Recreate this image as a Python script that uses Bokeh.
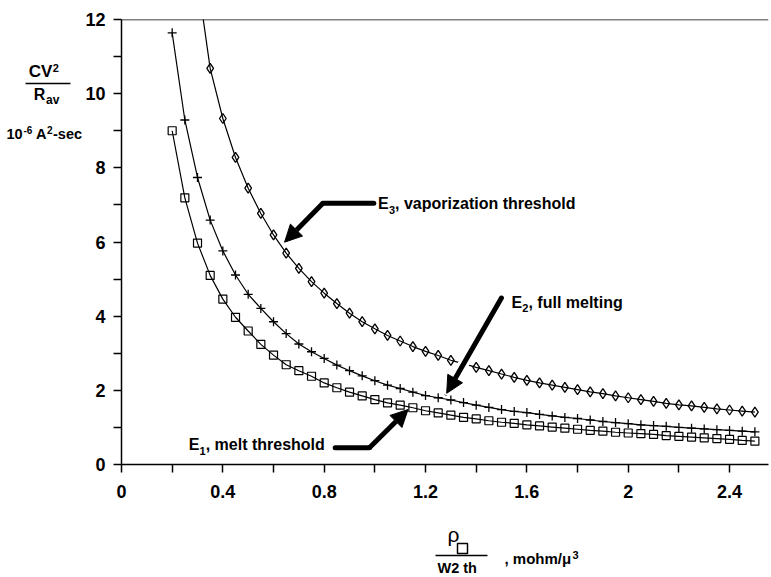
from bokeh.plotting import figure
from bokeh.layouts import row, column
from bokeh.models import Range1d, FixedTicker, Label, Arrow, NormalHead, Span, BoxAnnotation
from bokeh.embed import file_html
from bokeh.resources import INLINE

# ---- data ----
x_values = [0.20, 0.25, 0.30, 0.35, 0.40, 0.45, 0.50, 0.55, 0.60, 0.65,
            0.70, 0.75, 0.80, 0.85, 0.90, 0.95, 1.00, 1.05, 1.10, 1.15,
            1.20, 1.25, 1.30, 1.35, 1.40, 1.45, 1.50, 1.55, 1.60, 1.65,
            1.70, 1.75, 1.80, 1.85, 1.90, 1.95, 2.00, 2.05, 2.10, 2.15,
            2.20, 2.25, 2.30, 2.35, 2.40, 2.45, 2.50]

e1_melt = [9.00, 7.19, 5.97, 5.10, 4.46, 3.97, 3.60, 3.24, 2.95, 2.69,
           2.53, 2.38, 2.20, 2.07, 1.95, 1.85, 1.75, 1.66, 1.60, 1.53,
           1.45, 1.39, 1.33, 1.27, 1.23, 1.18, 1.14, 1.11, 1.07, 1.04,
           1.01, 0.98, 0.95, 0.92, 0.90, 0.87, 0.85, 0.83, 0.81, 0.78,
           0.76, 0.74, 0.72, 0.70, 0.68, 0.65, 0.63]

e2_full = [11.64, 9.29, 7.74, 6.59, 5.76, 5.11, 4.59, 4.21, 3.85, 3.53,
           3.25, 3.04, 2.86, 2.68, 2.53, 2.39, 2.26, 2.14, 2.05, 1.95,
           1.86, 1.80, 1.74, 1.67, 1.60, 1.54, 1.48, 1.43, 1.40, 1.35,
           1.31, 1.27, 1.24, 1.20, 1.16, 1.13, 1.10, 1.07, 1.05, 1.03,
           1.00, 0.98, 0.96, 0.94, 0.92, 0.90, 0.88]

e3_x = x_values[2:]
e3_vapor = [13.1, 10.68, 9.33, 8.28, 7.45, 6.77, 6.19, 5.70, 5.29, 4.93,
            4.62, 4.34, 4.08, 3.85, 3.66, 3.48, 3.33, 3.18, 3.05, 2.94,
            2.81, 2.72, 2.62, 2.53, 2.44, 2.35, 2.27, 2.20, 2.14, 2.08,
            2.02, 1.96, 1.91, 1.85, 1.80, 1.75, 1.70, 1.65, 1.61, 1.58,
            1.54, 1.50, 1.47, 1.44, 1.41]

x_ticks = [0, 0.4, 0.8, 1.2, 1.6, 2.0, 2.4]
x_tick_labels = ["0", "0.4", "0.8", "1.2", "1.6", "2", "2.4"]
x_minor_ticks = [0.2, 0.6, 1.0, 1.4, 1.8, 2.2]
y_ticks = [0, 2, 4, 6, 8, 10, 12]
y_minor_ticks = [1, 3, 5, 7, 9, 11]

FONT = "Liberation Sans"
LEFT_W = 82          # width of the strip that carries the y-axis title
MAIN_H = 512         # height of the main plot (the x-axis title strip sits below)
TOTAL_W, TOTAL_H = 770, 576
FRAME_TOP, FRAME_BOTTOM = 19, 464   # pixel rows of the plot frame

# ================= main plot =================
p = figure(width=TOTAL_W - LEFT_W, height=MAIN_H, x_range=Range1d(0, 2.5537), y_range=Range1d(0, 12),
           output_backend="svg", toolbar_location=None, title=None,
           min_border_left=120 - LEFT_W, min_border_right=2, min_border_top=FRAME_TOP,
           min_border_bottom=MAIN_H - FRAME_BOTTOM)
p.outline_line_color = None
p.grid.visible = False
p.background_fill_color = "white"
p.border_fill_color = "white"

p.xaxis.ticker = FixedTicker(ticks=x_ticks, minor_ticks=x_minor_ticks)
p.yaxis.ticker = FixedTicker(ticks=y_ticks, minor_ticks=y_minor_ticks)
p.xaxis.major_label_overrides = {t: s for t, s in zip(x_ticks, x_tick_labels)}
p.yaxis.major_label_overrides = {t: str(t) for t in y_ticks}

for ax in (p.xaxis[0], p.yaxis[0]):
    ax.axis_line_width = 1.5
    ax.axis_line_color = "black"
    ax.major_tick_line_width = 1.5
    ax.minor_tick_line_width = 1.5
    ax.major_tick_line_color = "black"
    ax.minor_tick_line_color = "black"
    ax.major_tick_in = 0
    ax.major_tick_out = 8
    ax.minor_tick_in = 0
    ax.minor_tick_out = 8
    ax.major_label_text_font = FONT
    ax.major_label_text_font_style = "bold"
    ax.major_label_text_font_size = "18px"
    ax.major_label_text_color = "black"
p.xaxis.major_label_standoff = 12
p.yaxis.major_label_standoff = 8

p.add_layout(Span(location=12, dimension="width", line_color="black", line_width=1.5))

# ---- series ----
p.line(x_values, e1_melt, line_color="black", line_width=1.2)
p.scatter(x_values, e1_melt, marker="square", size=8, fill_color=None,
          line_color="black", line_width=1.2)
p.line(x_values, e2_full, line_color="black", line_width=1.2)
p.scatter(x_values, e2_full, marker="cross", size=9, line_color="black", line_width=1.3)
p.line(e3_x, e3_vapor, line_color="black", line_width=1.2)
p.scatter(e3_x, e3_vapor, marker="diamond", size=10, fill_color=None,
          line_color="black", line_width=1.3)

# ---- helpers: reference pixel position -> main-plot data coordinates ----
def dx(px):
    return (px - 120) / 253.75

def dy(py):
    return (FRAME_BOTTOM - py) / 37.083

def lab(fig, text, x, y, size, font=FONT, style="bold"):
    fig.add_layout(Label(x=x, y=y, text=text, text_font=font,
                         text_font_size=f"{size}px", text_font_style=style,
                         text_baseline="middle", text_align="left", text_color="black"))

def seg(fig, x0, y0, x1, y1, width, color="black", head=False, cap="round"):
    fig.add_layout(Arrow(x_start=x0, y_start=y0, x_end=x1, y_end=y1,
                         line_width=width, line_color=color, line_cap=cap,
                         end=NormalHead(size=17, fill_color="black", line_color="black") if head else None))

def mseg(x0, y0, x1, y1, width, **kw):
    seg(p, dx(x0), dy(y0), dx(x1), dy(y1), width, **kw)

def mlab(text, px, base, size):
    lab(p, text, dx(px), dy(base - 0.35 * size), size)

def plab(fig, text, px, base, size, **kw):
    lab(fig, text, px, base - 0.35 * size, size, **kw)

# ---- arrows ----
mseg(372.7, 202.7, 321.7, 202.7, 5)
mseg(321.7, 202.7, 283.3, 241.7, 5, head=True, cap="butt")
x0, y0, x1, y1 = 500.5, 297.5, 445.7, 392.8
mseg(x0 + 0.45 * (x1 - x0), y0 + 0.45 * (y1 - y0), x0 + 0.85 * (x1 - x0), y0 + 0.85 * (y1 - y0),
     11, color="white", cap="butt")
mseg(x0, y0, x1, y1, 5, head=True)
mseg(334.0, 447.3, 368.3, 447.3, 5)
mseg(368.3, 447.3, 407.0, 409.0, 5, head=True, cap="butt")

# ---- curve labels ----
mlab("E", 377, 209, 16)
mlab("3", 387.8, 213, 11)
mlab(", vaporization threshold", 394, 209, 16)

mlab("E", 510.6, 307.5, 16)
mlab("2", 521.4, 311.5, 11)
mlab(", full melting", 527.6, 307.5, 16)

mlab("E", 187.3, 450, 16)
mlab("1", 198.1, 454, 11)
mlab(", melt threshold", 204.3, 450, 16)

# ================= y-axis title strip =================
# In a row, Bokeh aligns this strip's frame with the main frame (rows 19..464),
# so its y range is given in those same pixel rows.
ly = figure(width=LEFT_W, height=MAIN_H, x_range=Range1d(0, LEFT_W),
            y_range=Range1d(FRAME_BOTTOM, FRAME_TOP),
            output_backend="svg", toolbar_location=None, title=None,
            x_axis_type=None, y_axis_type=None, min_border=0)
ly.outline_line_color = None
ly.grid.visible = False
ly.border_fill_color = "white"
plab(ly, "CV", 28.3, 77.3, 17)
plab(ly, "2", 52.3, 71.5, 11)
seg(ly, 25, 83, 70, 83, 1.5, cap="butt")
plab(ly, "R", 33.3, 100, 16)
plab(ly, "av", 45.5, 103.3, 12)
plab(ly, "10", 6, 139, 14.5)
plab(ly, "-6", 23, 133, 10)
plab(ly, "A", 35.5, 139, 14.5)
plab(ly, "2", 46.5, 133, 10)
plab(ly, "-sec", 52.5, 139, 14.5)

# ================= x-axis title strip =================
bx = figure(width=TOTAL_W, height=TOTAL_H - MAIN_H, x_range=Range1d(0, TOTAL_W),
            y_range=Range1d(TOTAL_H, MAIN_H),
            output_backend="svg", toolbar_location=None, title=None,
            x_axis_type=None, y_axis_type=None, min_border=0)
bx.outline_line_color = None
bx.grid.visible = False
bx.border_fill_color = "white"
plab(bx, "ρ", 447, 541, 21, style="normal")
bx.add_layout(BoxAnnotation(left=457, right=467, top=543, bottom=553,
                            fill_color=None, fill_alpha=0, line_color="black",
                            line_alpha=1.0, line_width=1.5))
seg(bx, 435, 555, 487, 555, 1.5, cap="butt")
plab(bx, "W2 th", 437, 573, 14.5)
plab(bx, ", mohm/μ", 504, 563, 15)
plab(bx, "3", 572, 558, 11)

layout = column(row(ly, p), bx)
open("out.html", "w").write(file_html(layout, INLINE))
